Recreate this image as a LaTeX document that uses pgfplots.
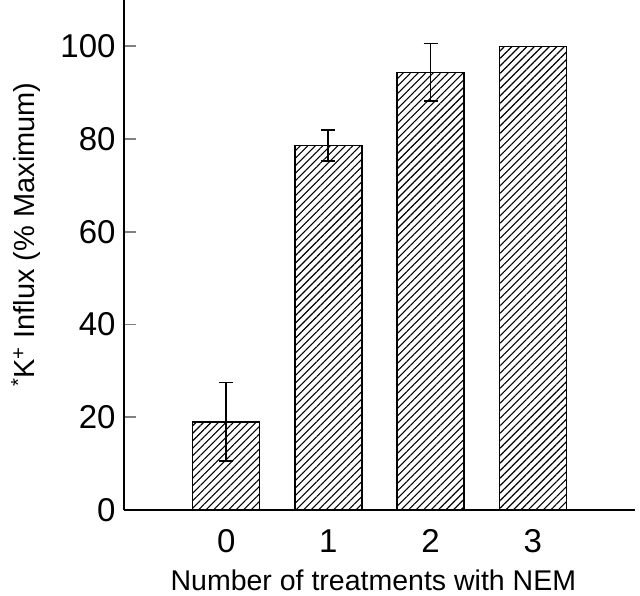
\documentclass[border=0pt]{standalone}
\usepackage{fontspec}
\setmainfont{Liberation Sans}
\usepackage{pgfplots}
\pgfplotsset{compat=1.18}
\usetikzlibrary{patterns.meta}
\begin{document}
\begin{tikzpicture}
\useasboundingbox (-124pt,-86pt) rectangle (516pt,510pt);
\begin{axis}[
  at={(0pt,0pt)}, anchor=south west,
  scale only axis,
  width=511pt, height=510pt,
  xmin=-1, xmax=4,
  ymin=0, ymax=110,
  axis lines=left,
  axis line style={-, line width=2pt},
  ytick={0,20,40,60,80,100},
  xtick={0,1,2,3},
  tick align=inside,
  major tick length=12pt,
  x tick style={draw=none},
  y tick style={line width=1.8pt},
  /pgf/number format/assume math mode=true,
  tick label style={font=\fontsize{33}{38}\selectfont},
  yticklabel style={xshift=-5pt},
  xticklabel style={anchor=base, yshift=-43pt},
  xlabel={Number of treatments with NEM},
  xlabel style={font=\fontsize{28.5}{34}\selectfont, at={(axis description cs:0.488,0)}, anchor=base, yshift=-81pt},
  ylabel={\textsuperscript{*}K\textsuperscript{+} Influx (\% Maximum)},
  ylabel style={font=\fontsize{29}{34}\selectfont, at={(axis description cs:-0.176,0.54)}, anchor=base, rotate=0},
  clip=false,
]
\addplot[ybar, bar shift=0pt, bar width=67pt, draw=black, line width=1.5pt,
  pattern={Lines[angle=45,distance=5.3pt,line width=1.1pt]},
  error bars/.cd, y dir=both, y explicit,
  error bar style={line width=1.8pt, black},
  error mark options={rotate=90, mark size=7pt, line width=1.8pt, black},
] coordinates {
  (0,19.0) +- (0,8.5)
  (1,78.6) +- (0,3.3)
  (2,94.4) +- (0,6.2)
};
\addplot[ybar, bar shift=0pt, bar width=67pt, draw=black, line width=1.5pt,
  pattern={Lines[angle=45,distance=5.3pt,line width=1.1pt]},
] coordinates {
  (3,100)
};
\end{axis}
\end{tikzpicture}
\end{document}
